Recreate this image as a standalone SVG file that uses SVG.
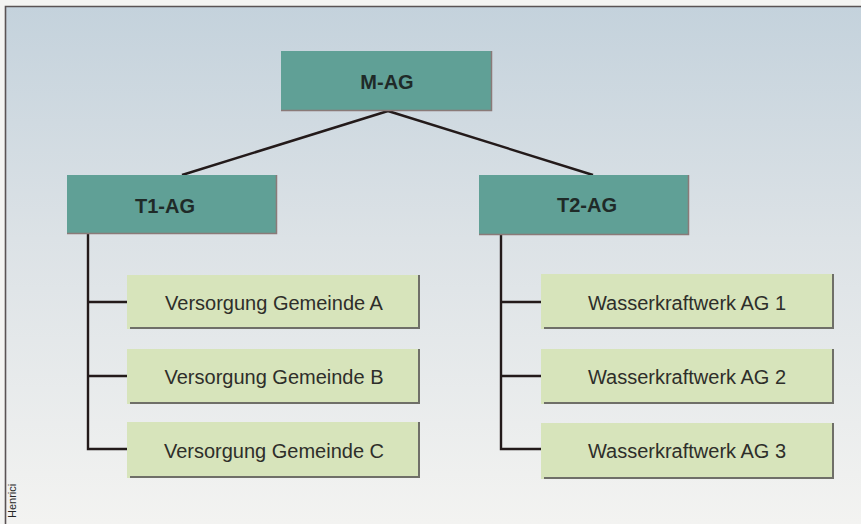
<svg xmlns="http://www.w3.org/2000/svg" width="861" height="524" viewBox="0 0 861 524">
<defs>
<linearGradient id="bg" x1="0" y1="0" x2="0" y2="1">
<stop offset="0" stop-color="#c4d2dc"/>
<stop offset="0.45" stop-color="#dce2e6"/>
<stop offset="1" stop-color="#f3f3f1"/>
</linearGradient>
<style>
.teal{fill:#60a096;}
.tealedge{fill:none;stroke:#8a7a78;stroke-width:1.5;}
.green{fill:#d7e4bb;}
.greenedge{fill:none;stroke:#6f6f68;stroke-width:2;}
.t{font-family:"Liberation Sans",Arial,sans-serif;fill:#262626;}
.tb{font-size:20px;font-weight:bold;fill:#1f2a28;}
.tg{font-size:20px;text-anchor:middle;fill:#2e2e2a;}
.conn line,.conn polyline{stroke:#231a1a;stroke-width:2.4;fill:none;}
</style>
</defs>
<rect x="0" y="0" width="861" height="524" fill="#f4f4f2"/>
<rect x="5" y="6" width="856" height="518" fill="url(#bg)"/>
<path d="M5.5 524 V6.5 H861" fill="none" stroke="#5a5354" stroke-width="1.6"/>
<text class="t" transform="translate(16 518) rotate(-90)" font-size="11" fill="#707070">Henrici</text>

<g class="conn" id="connectors">
<line x1="388" y1="111" x2="182" y2="175"/>
<line x1="388" y1="111" x2="593" y2="175"/>
<polyline points="88,234 88,449 127,449"/>
<line x1="88" y1="302" x2="127" y2="302"/>
<line x1="88" y1="376" x2="127" y2="376"/>
<polyline points="501,235 501,449 541,449"/>
<line x1="501" y1="302" x2="541" y2="302"/>
<line x1="501" y1="376" x2="541" y2="376"/>
</g>

<g id="m-ag">
<rect class="teal" x="281" y="51" width="211" height="60"/>
<path class="tealedge" d="M491.5 51 V110.5 H281"/>
<text class="t tb" x="387" y="89" text-anchor="middle">M-AG</text>
</g>
<g id="t1-ag">
<rect class="teal" x="67" y="175" width="210" height="59"/>
<path class="tealedge" d="M276.5 175 V233.5 H67"/>
<text class="t tb" x="135" y="213">T1-AG</text>
</g>
<g id="t2-ag">
<rect class="teal" x="479" y="175" width="210" height="60"/>
<path class="tealedge" d="M688.5 175 V234.5 H479"/>
<text class="t tb" x="557" y="212">T2-AG</text>
</g>

<g id="gem-a">
<rect class="green" x="127" y="275" width="293" height="54"/>
<path class="greenedge" d="M419 275 V328 H130"/>
<text class="t tg" x="274" y="310">Versorgung Gemeinde A</text>
</g>
<g id="gem-b">
<rect class="green" x="127" y="349" width="293" height="55"/>
<path class="greenedge" d="M419 349 V403 H130"/>
<text class="t tg" x="274" y="384">Versorgung Gemeinde B</text>
</g>
<g id="gem-c">
<rect class="green" x="127" y="422" width="293" height="56"/>
<path class="greenedge" d="M419 422 V477 H130"/>
<text class="t tg" x="274" y="458">Versorgung Gemeinde C</text>
</g>

<g id="wkw-1">
<rect class="green" x="541" y="274" width="293" height="55"/>
<path class="greenedge" d="M833 274 V328 H544"/>
<text class="t tg" x="687" y="310">Wasserkraftwerk AG 1</text>
</g>
<g id="wkw-2">
<rect class="green" x="541" y="349" width="293" height="55"/>
<path class="greenedge" d="M833 349 V403 H544"/>
<text class="t tg" x="687" y="384">Wasserkraftwerk AG 2</text>
</g>
<g id="wkw-3">
<rect class="green" x="541" y="423" width="293" height="56"/>
<path class="greenedge" d="M833 423 V478 H544"/>
<text class="t tg" x="687" y="458">Wasserkraftwerk AG 3</text>
</g>
</svg>
